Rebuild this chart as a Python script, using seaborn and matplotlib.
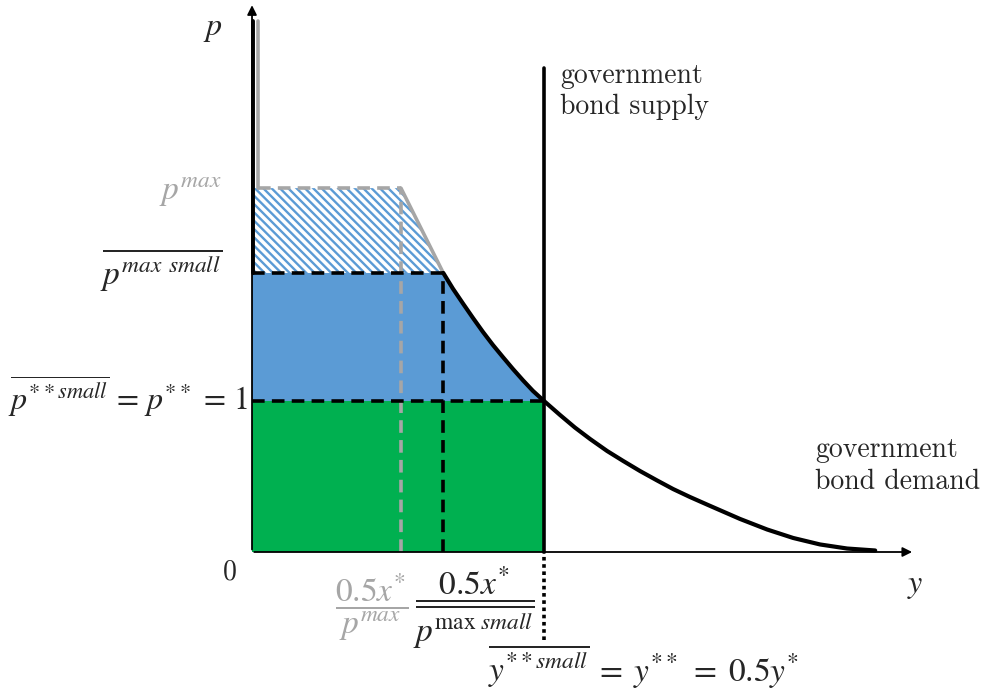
import numpy as np
import pandas as pd
import seaborn as sns
import matplotlib.pyplot as plt

# --- levels (p** = 1, y** = 1) ---
p_star = 1.0
p_max_small = 1.848
p_max = 2.41
y_star = 1.0
x_grey = 0.51        # 0.5x*/p^max
x_black = 0.655      # 0.5x*/p^max small
p_top = 3.52
supply_top = 3.205

# demand curve, read point by point
curve_x = [0.655, 0.688, 0.723, 0.757, 0.791, 0.825, 0.860, 0.894, 0.928, 0.962, 1.0,
           1.055, 1.106, 1.158, 1.216, 1.271, 1.329, 1.387, 1.442, 1.500, 1.562,
           1.671, 1.764, 1.853, 1.945, 2.038, 2.134]
curve_p = [1.848, 1.744, 1.644, 1.549, 1.457, 1.371, 1.289, 1.211, 1.137, 1.067, 1.0,
           0.907, 0.824, 0.748, 0.669, 0.603, 0.536, 0.474, 0.417, 0.364, 0.311,
           0.219, 0.149, 0.093, 0.050, 0.023, 0.010]

blue = '#5B9BD5'
green = '#00B050'
grey = '#A6A6A6'

sns.set_theme(style="white")
plt.rcParams['mathtext.fontset'] = 'stix'
plt.rcParams['hatch.linewidth'] = 1.7

fig = plt.figure(figsize=(9.92, 6.9), dpi=100)
ax = fig.add_axes([0, 0, 1, 1])
ax.set_xlim(-0.863, 2.534)
ax.set_ylim(-0.914, 3.656)
ax.axis('off')

df = pd.DataFrame({'y': curve_x, 'p': curve_p})

# --- areas ---
ax.fill([0, 0, x_grey, x_black], [p_max_small, p_max, p_max, p_max_small],
        facecolor='white', edgecolor=blue, hatch='\\\\\\\\', linewidth=0, zorder=1)
inner = df[df['y'] <= y_star]
ax.fill([0, 0] + list(inner['y']), [p_star, p_max_small] + list(inner['p']),
        color=blue, linewidth=0, zorder=1)
ax.fill([0, 0, y_star, y_star], [0, p_star, p_star, 0], color=green, linewidth=0, zorder=1)

# --- grey p^max kink ---
dash = (0, (3.5, 2))
ax.plot([0.022, 0.022], [p_max, p_top], color=grey, lw=2.6, zorder=3)
ax.plot([0.022, x_grey], [p_max, p_max], color=grey, lw=2.6, ls=dash, zorder=3)
ax.plot([x_grey, x_black], [p_max, p_max_small], color=grey, lw=2.6, zorder=3)
ax.plot([x_grey, x_grey], [0, p_max], color=grey, lw=2.6, ls=dash, zorder=3)

# --- black dashed guides ---
ax.plot([0, x_black], [p_max_small, p_max_small], color='black', lw=2.6, ls=dash, zorder=4)
ax.plot([x_black, x_black], [0, p_max_small], color='black', lw=2.6, ls=dash, zorder=4)
ax.plot([0, y_star], [p_star, p_star], color='black', lw=2.6, ls=dash, zorder=4)

# --- demand and supply ---
ax.plot([0.005, 0.005], [p_max_small, p_top], color='black', lw=2.8, zorder=5)
sns.lineplot(data=df, x='y', y='p', sort=False, color='black', lw=3.0, ax=ax, zorder=5)
ax.plot([y_star, y_star], [0, supply_top], color='black', lw=2.6, zorder=5)
ax.plot([y_star, y_star], [-0.583, 0], color='black', lw=2.6, ls=(0, (1, 1)), zorder=5)

# --- axes with arrows ---
ax.annotate('', xy=(2.27, 0), xytext=(-0.002, 0),
            arrowprops=dict(arrowstyle='-|>', color='black', lw=1.3, mutation_scale=14), zorder=6)
ax.annotate('', xy=(0, 3.64), xytext=(0, -0.002),
            arrowprops=dict(arrowstyle='-|>', color='black', lw=1.3, mutation_scale=14), zorder=6)

# --- labels ---
fs = 24
ax.text(-0.134, 3.47, r'$p$', fontsize=23, ha='center', va='center')
ax.text(2.27, -0.219, r'$y$', fontsize=23, ha='center', va='center')
ax.text(-0.075, -0.132, '0', fontsize=20, family='cmr10', ha='center', va='center')
ax.text(-0.103, 2.38, r'$p^{max}$', fontsize=fs, color=grey, ha='right', va='center')
ax.text(-0.103, 1.87, r'$\overline{p^{max\;\,small}}$', fontsize=fs, ha='right', va='center')
ax.text(-0.014, 1.03, r'$\overline{p^{**small}}\,=\,p^{**}\,=\,1$', fontsize=23,
        ha='right', va='center')
ax.text(0.411, -0.37, r'$\dfrac{0.5x^{*}}{p^{max}}$', fontsize=fs, color=grey,
        ha='center', va='center')
ax.text(0.76, -0.37, r'$\dfrac{0.5x^{*}}{\overline{p^{\mathrm{max}\ small}}}$', fontsize=fs,
        ha='center', va='center')
ax.text(1.34, -0.76, r'$\overline{y^{**small}}\;=\;y^{**}\;=\;0.5y^{*}$', fontsize=fs,
        ha='center', va='center')
ax.text(1.055, 3.05, 'government\nbond supply', fontsize=20, family='cmr10',
        ha='left', va='center', linespacing=1.25)
ax.text(1.928, 0.57, 'government\nbond demand', fontsize=20, family='cmr10',
        ha='left', va='center', linespacing=1.25)

plt.savefig('out.png', dpi=100)
plt.close()
